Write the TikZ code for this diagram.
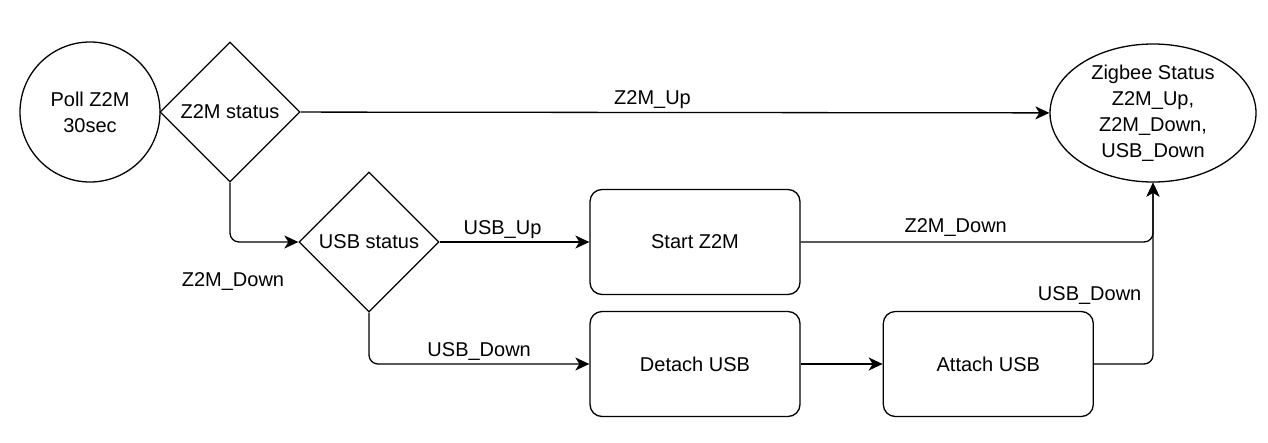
\documentclass[tikz,border=0pt]{standalone}
\usepackage{fontspec}
\setmainfont{Liberation Sans}
\usepackage{tikz}
\usetikzlibrary{arrows.meta,positioning,shapes.geometric}

\begin{document}
\begin{tikzpicture}[
    x=1pt, y=-1pt,
    font=\fontsize{20}{26}\selectfont,
    line width=1.3pt,
    term/.style={draw, circle, minimum size=140pt, inner sep=0pt, align=center},
    dec/.style={draw, diamond, aspect=1, minimum width=140pt, minimum height=140pt, inner sep=0pt, align=center},
    proc/.style={draw, rectangle, rounded corners=12pt, minimum width=210pt, minimum height=105pt, align=center},
    stat/.style={draw, ellipse, minimum width=206pt, minimum height=138pt, inner sep=0pt, align=center},
    arr/.style={-{Stealth[length=14pt, width=13pt, inset=4pt]}, rounded corners=9pt},
    lbl/.style={inner sep=3pt},
  ]
    \useasboundingbox[fill=white] (0,0) rectangle (1268,442);

    % Top row
    \node[term] (poll) at (90,112) {Poll Z2M\\30sec};
    \node[dec] (z2m) at (230,112) {Z2M status};
    \node[stat] (zstat) at (1153,113) {Zigbee Status\\Z2M\_Up,\\Z2M\_Down,\\USB\_Down};

    % Middle row
    \node[dec] (usb) at (369,242) {USB status};
    \node[proc] (start) at (695,242) {Start Z2M};

    % Bottom row
    \node[proc] (detach) at (695,364) {Detach USB};
    \node[proc, right=82pt of detach] (attach) {Attach USB};

    % Arrows
    \draw[arr] (z2m) -- node[lbl, above, pos=0.47] {Z2M\_Up} (zstat);
    \draw[arr] (z2m.south) |- (usb.west);
    \node[lbl] (zdown) at (233,281) {Z2M\_Down};
    \draw[arr] (usb) -- node[lbl, above, pos=0.42] {USB\_Up} (start);
    \draw[arr] (usb.south) |- node[lbl, above, pos=0.75] {USB\_Down} (detach.west);
    \draw[arr] (detach) -- (attach);
    \draw[arr] (start.east) -| node[lbl, above, pos=0.22, yshift=2pt] {Z2M\_Down} (zstat.south);
    \draw[arr] (attach.east) -| node[lbl, left=8pt, pos=0.69] {USB\_Down} (zstat.south);
  \end{tikzpicture}
\end{document}
